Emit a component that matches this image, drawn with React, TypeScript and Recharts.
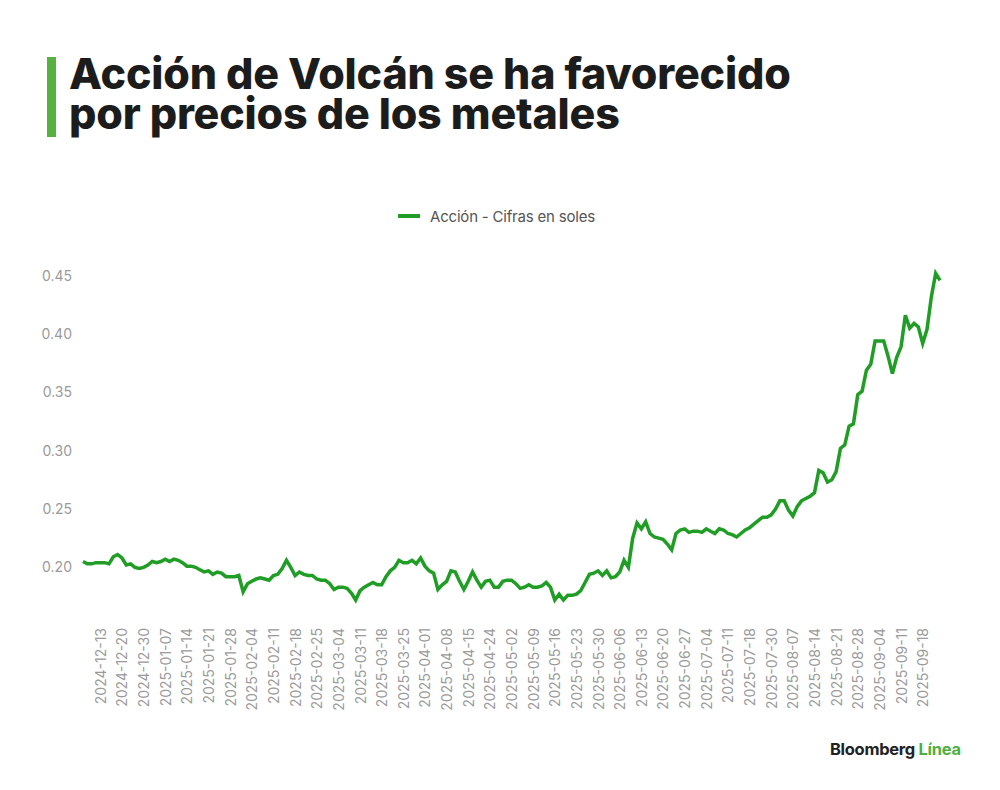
import { LineChart, Line, XAxis, YAxis, Legend } from 'recharts';

// trading days (Lima stock exchange), one point per session
const dates = [
  '2024-12-06', '2024-12-10', '2024-12-11', '2024-12-12', '2024-12-13',
  '2024-12-16', '2024-12-17', '2024-12-18', '2024-12-19', '2024-12-20',
  '2024-12-23', '2024-12-24', '2024-12-26', '2024-12-27', '2024-12-30',
  '2024-12-31', '2025-01-02', '2025-01-03', '2025-01-06', '2025-01-07',
  '2025-01-08', '2025-01-09', '2025-01-10', '2025-01-13', '2025-01-14',
  '2025-01-15', '2025-01-16', '2025-01-17', '2025-01-20', '2025-01-21',
  '2025-01-22', '2025-01-23', '2025-01-24', '2025-01-27', '2025-01-28',
  '2025-01-29', '2025-01-30', '2025-01-31', '2025-02-03', '2025-02-04',
  '2025-02-05', '2025-02-06', '2025-02-07', '2025-02-10', '2025-02-11',
  '2025-02-12', '2025-02-13', '2025-02-14', '2025-02-17', '2025-02-18',
  '2025-02-19', '2025-02-20', '2025-02-21', '2025-02-24', '2025-02-25',
  '2025-02-26', '2025-02-27', '2025-02-28', '2025-03-03', '2025-03-04',
  '2025-03-05', '2025-03-06', '2025-03-07', '2025-03-10', '2025-03-11',
  '2025-03-12', '2025-03-13', '2025-03-14', '2025-03-17', '2025-03-18',
  '2025-03-19', '2025-03-20', '2025-03-21', '2025-03-24', '2025-03-25',
  '2025-03-26', '2025-03-27', '2025-03-28', '2025-03-31', '2025-04-01',
  '2025-04-02', '2025-04-03', '2025-04-04', '2025-04-07', '2025-04-08',
  '2025-04-09', '2025-04-10', '2025-04-11', '2025-04-14', '2025-04-15',
  '2025-04-16', '2025-04-21', '2025-04-22', '2025-04-23', '2025-04-24',
  '2025-04-25', '2025-04-28', '2025-04-29', '2025-04-30', '2025-05-02',
  '2025-05-05', '2025-05-06', '2025-05-07', '2025-05-08', '2025-05-09',
  '2025-05-12', '2025-05-13', '2025-05-14', '2025-05-15', '2025-05-16',
  '2025-05-19', '2025-05-20', '2025-05-21', '2025-05-22', '2025-05-23',
  '2025-05-26', '2025-05-27', '2025-05-28', '2025-05-29', '2025-05-30',
  '2025-06-02', '2025-06-03', '2025-06-04', '2025-06-05', '2025-06-06',
  '2025-06-09', '2025-06-10', '2025-06-11', '2025-06-12', '2025-06-13',
  '2025-06-16', '2025-06-17', '2025-06-18', '2025-06-19', '2025-06-20',
  '2025-06-23', '2025-06-24', '2025-06-25', '2025-06-26', '2025-06-27',
  '2025-06-30', '2025-07-01', '2025-07-02', '2025-07-03', '2025-07-04',
  '2025-07-07', '2025-07-08', '2025-07-09', '2025-07-10', '2025-07-11',
  '2025-07-14', '2025-07-15', '2025-07-16', '2025-07-17', '2025-07-18',
  '2025-07-21', '2025-07-22', '2025-07-24', '2025-07-25', '2025-07-30',
  '2025-07-31', '2025-08-01', '2025-08-04', '2025-08-05', '2025-08-07',
  '2025-08-08', '2025-08-11', '2025-08-12', '2025-08-13', '2025-08-14',
  '2025-08-15', '2025-08-18', '2025-08-19', '2025-08-20', '2025-08-21',
  '2025-08-22', '2025-08-25', '2025-08-26', '2025-08-27', '2025-08-28',
  '2025-08-29', '2025-09-01', '2025-09-02', '2025-09-03', '2025-09-04',
  '2025-09-05', '2025-09-08', '2025-09-09', '2025-09-10', '2025-09-11',
  '2025-09-12', '2025-09-15', '2025-09-16', '2025-09-17', '2025-09-18',
  '2025-09-19', '2025-09-22', '2025-09-23', '2025-09-24',
];

// closing price, soles
const prices = [
  0.205, 0.203, 0.203, 0.204, 0.204, 0.204, 0.203, 0.209, 0.211, 0.208,
  0.202, 0.203, 0.200, 0.199, 0.200, 0.202, 0.205, 0.204, 0.205, 0.207,
  0.205, 0.207, 0.206, 0.204, 0.201, 0.201, 0.200, 0.198, 0.196, 0.197,
  0.194, 0.196, 0.195, 0.192, 0.192, 0.192, 0.193, 0.179, 0.186, 0.188,
  0.190, 0.191, 0.190, 0.189, 0.193, 0.194, 0.199, 0.206, 0.200, 0.193,
  0.196, 0.194, 0.193, 0.193, 0.190, 0.189, 0.189, 0.186, 0.181, 0.183,
  0.183, 0.182, 0.178, 0.172, 0.180, 0.183, 0.185, 0.187, 0.185, 0.185,
  0.192, 0.197, 0.200, 0.206, 0.204, 0.204, 0.206, 0.203, 0.208, 0.201,
  0.197, 0.195, 0.181, 0.185, 0.188, 0.197, 0.196, 0.188, 0.181, 0.188,
  0.196, 0.189, 0.183, 0.188, 0.189, 0.183, 0.183, 0.188, 0.189, 0.189,
  0.186, 0.182, 0.183, 0.185, 0.183, 0.183, 0.184, 0.187, 0.183, 0.172,
  0.177, 0.172, 0.176, 0.176, 0.177, 0.180, 0.187, 0.194, 0.195, 0.197,
  0.193, 0.197, 0.191, 0.192, 0.196, 0.206, 0.200, 0.225, 0.238, 0.233,
  0.239, 0.229, 0.226, 0.225, 0.224, 0.220, 0.215, 0.229, 0.232, 0.233,
  0.230, 0.231, 0.231, 0.230, 0.233, 0.231, 0.229, 0.233, 0.232, 0.229,
  0.228, 0.226, 0.229, 0.232, 0.234, 0.237, 0.240, 0.243, 0.243, 0.245,
  0.250, 0.257, 0.257, 0.249, 0.244, 0.252, 0.257, 0.259, 0.261, 0.264,
  0.283, 0.281, 0.273, 0.275, 0.282, 0.302, 0.305, 0.321, 0.323, 0.348,
  0.351, 0.369, 0.374, 0.394, 0.394, 0.394, 0.381, 0.366, 0.380, 0.389,
  0.416, 0.405, 0.409, 0.406, 0.392, 0.404, 0.432, 0.452, 0.446,
];

const tickLabels = [
  '2024-12-13', '2024-12-20', '2024-12-30', '2025-01-07', '2025-01-14',
  '2025-01-21', '2025-01-28', '2025-02-04', '2025-02-11', '2025-02-18',
  '2025-02-25', '2025-03-04', '2025-03-11', '2025-03-18', '2025-03-25',
  '2025-04-01', '2025-04-08', '2025-04-15', '2025-04-24', '2025-05-02',
  '2025-05-09', '2025-05-16', '2025-05-23', '2025-05-30', '2025-06-06',
  '2025-06-13', '2025-06-20', '2025-06-27', '2025-07-04', '2025-07-11',
  '2025-07-18', '2025-07-30', '2025-08-07', '2025-08-14', '2025-08-21',
  '2025-08-28', '2025-09-04', '2025-09-11', '2025-09-18',
];

const yTicks = [0.2, 0.25, 0.3, 0.35, 0.4, 0.45];

const titleLines = ['Acción de Volcán se ha favorecido', 'por precios de los metales'];

const data = dates.map((date, i) => ({ date, price: prices[i] }));

const GREEN = '#1f9d24';

function DateTick({ x, y, payload }: any) {
  return (
    <text
      transform={`translate(${x},${y + 6}) rotate(-90)`}
      textAnchor="end"
      dominantBaseline="central"
      fill="#9a9a9a"
      fontSize={14}
    >
      {payload.value}
    </text>
  );
}

function LegendContent() {
  return (
    <div style={{ height: 60, display: 'flex', justifyContent: 'center' }}>
      <div style={{ display: 'flex', alignItems: 'center', height: 24, marginLeft: 30 }}>
        <span style={{ width: 22, height: 4, background: GREEN, marginRight: 10 }} />
        <span style={{ fontSize: 15, color: '#555', letterSpacing: -0.2 }}>Acción - Cifras en soles</span>
      </div>
    </div>
  );
}

export default function App() {
  return (
    <div
      style={{
        position: 'absolute',
        left: 0,
        top: 0,
        width: 1000,
        height: 790,
        background: '#fff',
        fontFamily: 'Inter, "Noto Sans", sans-serif',
      }}
    >
      <div style={{ position: 'absolute', left: 47, top: 57, width: 9, height: 80, background: '#56b23f' }} />
      {titleLines.map((line, i) => (
        <div
          key={line}
          style={{
            position: 'absolute',
            left: 69,
            top: 53 + i * 40,
            height: 40,
            fontSize: 43,
            lineHeight: '40px',
            fontWeight: 800,
            letterSpacing: -0.2,
            color: '#1c1c1c',
            whiteSpace: 'nowrap',
          }}
        >
          {line}
        </div>
      ))}

      <div style={{ position: 'absolute', left: 0, top: 190 }}>
        <LineChart width={1000} height={524} data={data} margin={{ top: 14, right: 60, left: 23, bottom: 0 }}>
          <Legend verticalAlign="top" content={<LegendContent />} />
          <XAxis
            dataKey="date"
            ticks={tickLabels}
            interval={0}
            tickLine={false}
            axisLine={false}
            height={100}
            tick={<DateTick />}
          />
          <YAxis
            domain={[0.16, 0.46]}
            ticks={yTicks}
            tickFormatter={(v) => v.toFixed(2)}
            axisLine={false}
            tickLine={false}
            tickMargin={5}
            width={60}
            tick={{ fill: '#9a9a9a', fontSize: 14 }}
          />
          <Line
            type="linear"
            dataKey="price"
            name="Acción - Cifras en soles"
            stroke={GREEN}
            strokeWidth={3.5}
            dot={false}
            isAnimationActive={false}
          />
        </LineChart>
      </div>

      <div style={{ position: 'absolute', left: 830, top: 739, fontSize: 16.5, fontWeight: 700, letterSpacing: -0.3 }}>
        <span style={{ color: '#222' }}>Bloomberg </span>
        <span style={{ color: '#4caf3f' }}>Línea</span>
      </div>
    </div>
  );
}
